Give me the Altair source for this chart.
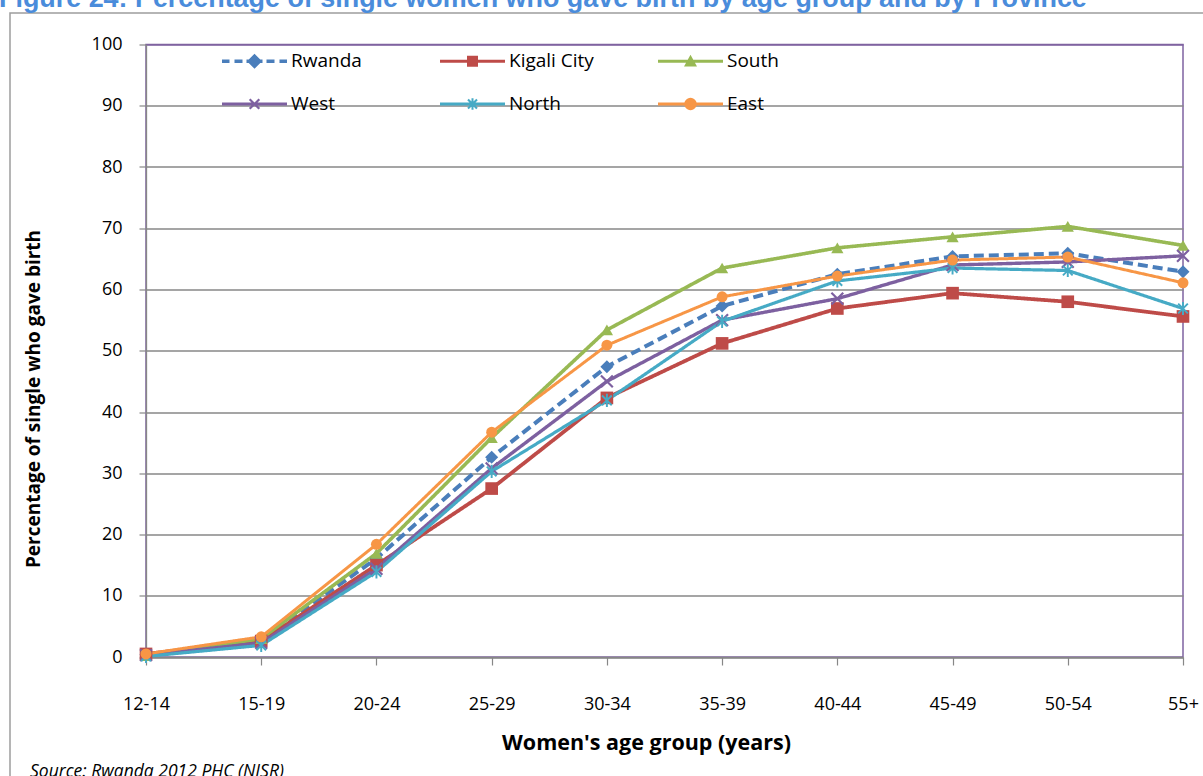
import math
import altair as alt
import pandas as pd

# ---------------- data ----------------
age_groups = ["12-14", "15-19", "20-24", "25-29", "30-34", "35-39", "40-44", "45-49", "50-54", "55+"]
series_names = ["Rwanda", "Kigali City", "South", "West", "North", "East"]

rwanda = [0.4, 2.7, 16.1, 32.6, 47.4, 57.3, 62.5, 65.4, 65.9, 62.9]
kigali_city = [0.5, 2.6, 15.0, 27.5, 42.3, 51.2, 56.9, 59.4, 58.0, 55.6]
south = [0.2, 3.0, 16.9, 35.8, 53.4, 63.5, 66.8, 68.6, 70.3, 67.2]
west = [0.3, 2.3, 14.4, 30.8, 45.0, 55.0, 58.5, 64.0, 64.5, 65.5]
north = [0.1, 1.9, 13.9, 30.3, 41.9, 54.8, 61.4, 63.5, 63.1, 56.9]
east = [0.5, 3.3, 18.4, 36.7, 50.9, 58.8, 62.2, 64.8, 65.3, 61.1]

y_ticks = list(range(0, 101, 10))

title_text = "Figure 24: Percentage of single women who gave birth by age group and by Province"
x_title = "Women's age group (years)"
y_title = "Percentage of single who gave birth"
source_text = "Source: Rwanda 2012 PHC (NISR)"

# ---------------- styles ----------------
series_colors = ["#4A7EBB", "#BE4B48", "#98B954", "#7D60A0", "#46AAC5", "#F79646"]
dash_styles = [[10, 5], [1, 0], [1, 0], [1, 0], [1, 0], [1, 0]]
line_widths = [4, 3, 3, 3, 3, 3]
marker_sizes = [170, 120, 140, 130, 130, 150]
GRID = "#878787"
PURPLE = "#7F63A1"
LABEL_FONT = "Open Sans"

values_by_series = [rwanda, kigali_city, south, west, north, east]
df = pd.DataFrame(
    [
        {"series": s, "age": a, "value": v}
        for s, vals in zip(series_names, values_by_series)
        for a, v in zip(age_groups, vals)
    ]
)


def poly(pts, s=1.0):
    return "M" + " L".join(f"{x / s:.4f},{y / s:.4f}" for x, y in pts) + " Z"


def hrect(x0, x1, h):
    return [(x0, -h), (x1, -h), (x1, h), (x0, h)]


def vbar(w, h):
    return [(-w, -h), (w, -h), (w, h), (-w, h)]


def diamond(r):
    return [(0, -r), (r, 0), (0, r), (-r, 0)]


def square(h):
    return [(-h, -h), (h, -h), (h, h), (-h, h)]


def triangle(r):
    return [(0, -r), (r, 0.8 * r), (-r, 0.8 * r)]


def circle(r, n=28):
    return [(r * math.cos(2 * math.pi * k / n), r * math.sin(2 * math.pi * k / n)) for k in range(n)]


def diag1(a, t):
    return [(-a + t, -a - t), (a + t, a - t), (a - t, a + t), (-a - t, -a + t)]


def diag2(a, t):
    return [(-a - t, a - t), (a - t, -a - t), (a + t, -a + t), (-a + t, a + t)]


# plot markers (unit coordinates)
X_MARK = poly(diag1(1, 0.13)) + " " + poly(diag2(1, 0.13))
STAR_MARK = poly(diag1(0.85, 0.12)) + " " + poly(diag2(0.85, 0.12)) + " " + poly(vbar(0.17, 1.15))
marker_shapes = ["diamond", "square", "triangle-up", X_MARK, STAR_MARK, "circle"]

# legend symbols: line + marker, in pixels, scaled to unit coordinates
S = 32.5
line_px = hrect(-32.5, 32.5, 1.5)
leg_rwanda = " ".join(
    poly(p, S)
    for p in [
        hrect(-32.5, -25, 1.8),
        hrect(-20, -12, 1.8),
        hrect(-8, 8, 1.8),
        hrect(12, 20, 1.8),
        hrect(25, 32.5, 1.8),
        diamond(7.5),
    ]
)
leg_kigali = poly(line_px, S) + " " + poly(square(5.5), S)
leg_south = poly(line_px, S) + " " + poly(triangle(6.5), S)
leg_west = poly(line_px, S) + " " + poly(diag1(4.8, 0.8), S) + " " + poly(diag2(4.8, 0.8), S)
leg_north = (
    poly(line_px, S) + " " + poly(diag1(4.5, 0.75), S) + " " + poly(diag2(4.5, 0.75), S) + " " + poly(vbar(1.0, 5.8), S)
)
leg_east = poly(line_px, S) + " " + poly(circle(6.2), S)
legend_shapes = [leg_rwanda, leg_kigali, leg_south, leg_west, leg_north, leg_east]

# ---------------- encodings ----------------
x_enc = alt.X(
    "age:N",
    sort=age_groups,
    scale=alt.Scale(type="point", domain=age_groups, padding=0),
    axis=alt.Axis(
        title=x_title,
        labelAngle=0,
        labelFont=LABEL_FONT,
        labelFontSize=18,
        labelColor="black",
        labelPadding=30,
        tickSize=8,
        tickColor=GRID,
        tickWidth=1.2,
        domainColor=GRID,
        domainWidth=1.3,
        grid=False,
        titleFont=LABEL_FONT,
        titleFontSize=21.5,
        titleFontWeight="bold",
        titleColor="black",
        titleX=500,
        titleY=86,
        titleAlign="center",
        titleBaseline="middle",
    ),
)

y_enc = alt.Y(
    "value:Q",
    scale=alt.Scale(domain=[0, 100], nice=False, zero=True),
    axis=alt.Axis(
        title=y_title,
        values=y_ticks,
        labelFont=LABEL_FONT,
        labelFontSize=18,
        labelColor="black",
        labelPadding=17,
        tickSize=7,
        tickColor=GRID,
        tickWidth=1.2,
        domainColor=GRID,
        domainWidth=1.3,
        grid=True,
        gridColor={"condition": {"test": "datum.value === 100", "value": PURPLE}, "value": GRID},
        gridWidth=1.3,
        titleFont=LABEL_FONT,
        titleFontSize=19,
        titleFontWeight="bold",
        titleColor="black",
        titleAngle=270,
        titleX=-113,
        titleY=354,
        titleAlign="center",
        titleBaseline="middle",
    ),
)

color_nolegend = alt.Color("series:N", scale=alt.Scale(domain=series_names, range=series_colors), legend=None)

border = (
    alt.Chart(pd.DataFrame({"b": [0]}))
    .mark_rect(fillOpacity=0, stroke="#9D9D9D", strokeWidth=1.5)
    .encode(x=alt.value(10 - 146), x2=alt.value(1400), y=alt.value(13 - 44.5), y2=alt.value(900))
)

lines = (
    alt.Chart(df)
    .mark_line(strokeJoin="round", strokeCap="butt")
    .encode(
        x=x_enc,
        y=y_enc,
        color=color_nolegend,
        strokeDash=alt.StrokeDash(
            "series:N", scale=alt.Scale(domain=series_names, range=dash_styles), legend=None
        ),
        strokeWidth=alt.StrokeWidth(
            "series:N", scale=alt.Scale(domain=series_names, range=line_widths), legend=None
        ),
    )
)

points = (
    alt.Chart(df)
    .mark_point(filled=True, opacity=1, strokeWidth=0)
    .encode(
        x=x_enc,
        y=y_enc,
        color=color_nolegend,
        shape=alt.Shape("series:N", scale=alt.Scale(domain=series_names, range=marker_shapes), legend=None),
        size=alt.Size("series:N", scale=alt.Scale(domain=series_names, range=marker_sizes), legend=None),
    )
)

legend_props = dict(
    title=None,
    orient="none",
    direction="horizontal",
    legendX=76,
    legendY=-16,
    columns=3,
    gridAlign="all",
    columnPadding=64,
    rowPadding=-33,
    symbolSize=4225,
    symbolStrokeWidth=0,
    symbolOpacity=1,
    labelFont=LABEL_FONT,
    labelFontSize=19,
    labelColor="black",
    labelOffset=4,
    padding=0,
)

legend_layer = (
    alt.Chart(df)
    .transform_filter("false")
    .mark_point(filled=True, opacity=1, strokeWidth=0)
    .encode(
        x=x_enc,
        y=y_enc,
        color=alt.Color(
            "series:N",
            scale=alt.Scale(domain=series_names, range=series_colors),
            legend=alt.Legend(**legend_props),
        ),
        shape=alt.Shape(
            "series:N",
            scale=alt.Scale(domain=series_names, range=legend_shapes),
            legend=alt.Legend(**legend_props),
        ),
    )
)

source = (
    alt.Chart(pd.DataFrame({"t": [source_text]}))
    .mark_text(font=LABEL_FONT, fontStyle="italic", fontSize=17.5, align="left", baseline="alphabetic", color="black")
    .encode(text="t:N", x=alt.value(30 - 146), y=alt.value(776.5 - 44.5))
)

chart = (
    alt.layer(border, lines, points, legend_layer, source)
    .resolve_scale(
        color="independent",
        shape="independent",
        strokeDash="independent",
        strokeWidth="independent",
        size="independent",
    )
    .properties(
        width=1037,
        height=612.5,
        padding={"left": 146, "top": 44.5, "right": 20, "bottom": 119},
        autosize=alt.AutoSizeParams(type="none"),
        title=alt.Title(
            title_text,
            anchor="start",
            frame="group",
            font="Liberation Sans",
            fontSize=26.9,
            fontWeight="bold",
            color="#4A8CDB",
            baseline="alphabetic",
            dx=-147,
            dy=27,
            offset=5,
        ),
    )
    .configure_view(stroke=PURPLE, strokeWidth=1.5)
)

chart.save("out.html", embed_options={"renderer": "svg", "actions": False})
